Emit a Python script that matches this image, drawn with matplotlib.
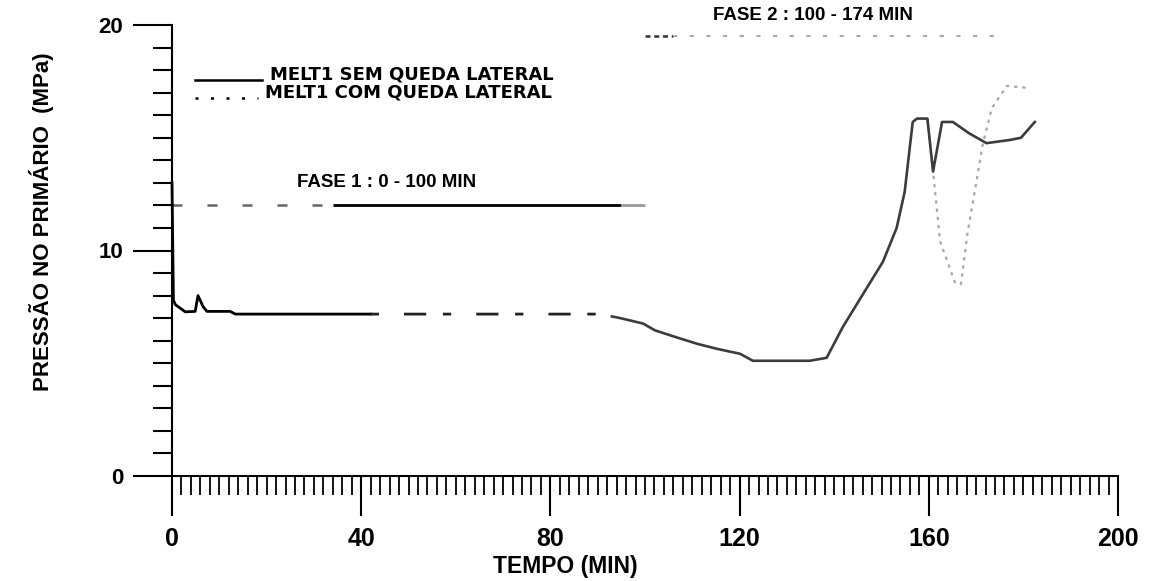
import matplotlib
matplotlib.use('Agg')
import matplotlib.pyplot as plt
from matplotlib import font_manager
from matplotlib.font_manager import FontProperties
from matplotlib.lines import Line2D
import numpy as np

# ---------------- data ----------------
t_sem = [0.0, 0.3, 0.7, 2.8, 4.9, 5.5, 6.6, 7.4, 12.3, 13.4, 42.0, 90.5, 94.8,
         99.6, 102.1, 105.9, 110.9, 115.2, 120.1, 122.8, 134.8, 138.4, 141.8,
         145.6, 150.3, 153.2, 154.9, 156.6, 157.5, 159.7, 160.9, 162.8, 165.1,
         168.5, 172.2, 177.1, 179.5, 182.4]
p_sem = [13.0, 7.8, 7.6, 7.28, 7.3, 8.0, 7.5, 7.3, 7.3, 7.18, 7.18, 7.18, 7.0,
         6.76, 6.46, 6.2, 5.87, 5.64, 5.42, 5.11, 5.11, 5.24, 6.6,
         7.9, 9.5, 11.0, 12.6, 15.7, 15.85, 15.85, 13.5, 15.7, 15.7,
         15.2, 14.76, 14.9, 15.0, 15.7]

t_com = [159.7, 160.9, 162.4, 165.5, 166.8, 168.2, 169.7, 171.4, 173.3, 176.5, 181.4]
p_com = [15.85, 13.5, 10.4, 8.6, 8.5, 10.8, 12.6, 14.7, 16.3, 17.3, 17.2]

fase1_t = [0.0, 100.0]
fase1_p = [12.0, 12.0]
fase2_t = [100.0, 174.0]
fase2_p = [19.5, 19.5]

legend_labels = ["MELT1 SEM QUEDA LATERAL", "MELT1 COM QUEDA LATERAL"]
fase1_label = "FASE 1 : 0 - 100 MIN"
fase2_label = "FASE 2 : 100 - 174 MIN"
x_ticks = [0, 40, 80, 120, 160, 200]
y_ticks = [0, 10, 20]
x_title = "TEMPO (MIN)"
y_title = "PRESSÃO NO PRIMÁRIO  (MPa)"


def pick(fams):
    for f in fams:
        try:
            font_manager.findfont(FontProperties(family=f), fallback_to_default=False)
            return f
        except Exception:
            pass
    return 'DejaVu Sans'


SANS = pick(['Liberation Sans', 'Arial', 'DejaVu Sans'])
NARROW = pick(['Liberation Sans Narrow', 'Liberation Sans', 'DejaVu Sans'])


def segment(t, p, a, b):
    t = np.asarray(t, float)
    p = np.asarray(p, float)
    a = max(a, t[0]); b = min(b, t[-1])
    inner = (t > a) & (t < b)
    ts = np.concatenate([[a], t[inner], [b]])
    ps = np.concatenate([[np.interp(a, t, p)], p[inner], [np.interp(b, t, p)]])
    return ts, ps


W, H = 1155, 581
fig = plt.figure(figsize=(W / 100, H / 100), dpi=100)
fig.patch.set_facecolor('white')

x0, x1 = 172, 1118
y0, y1 = 476, 25
ax = fig.add_axes([x0 / W, (H - y0) / H, (x1 - x0) / W, (y0 - y1) / H])
ax.set_xlim(0, 200)
ax.set_ylim(0, 20)
for s in ['top', 'right']:
    ax.spines[s].set_visible(False)
for s in ['left', 'bottom']:
    ax.spines[s].set_linewidth(1.5)
    ax.spines[s].set_color('black')

ax.set_xticks(x_ticks)
ax.set_xticks(np.arange(0, 201, 2), minor=True)
ax.set_yticks(y_ticks)
ax.set_yticks(np.arange(0, 21, 1), minor=True)
ax.tick_params(axis='x', which='major', direction='out', length=29, width=1.5, pad=8)
ax.tick_params(axis='x', which='minor', direction='out', length=14, width=1.3)
ax.tick_params(axis='y', which='major', direction='out', length=28, width=1.5, pad=7)
ax.tick_params(axis='y', which='minor', direction='out', length=14, width=1.5)
ax.set_xticklabels([str(v) for v in x_ticks], fontfamily=NARROW, fontweight='bold', fontsize=18)
ax.set_yticklabels([str(v) for v in y_ticks], fontfamily=SANS, fontweight='bold', fontsize=16)

# phase lines
ts, ps = segment(fase1_t, fase1_p, 0, 34)
ax.plot(ts, ps, color='#666666', lw=1.8, linestyle=(0, (4, 10)), clip_on=False)
ts, ps = segment(fase1_t, fase1_p, 34, 95)
ax.plot(ts, ps, color='black', lw=2.0, solid_capstyle='butt')
ts, ps = segment(fase1_t, fase1_p, 95, 100)
ax.plot(ts, ps, color='#999999', lw=2.0, solid_capstyle='butt')
ts, ps = segment(fase2_t, fase2_p, 100, 106)
ax.plot(ts, ps, color='#333333', lw=1.8, linestyle=(0, (2, 1.5)))
ts, ps = segment(fase2_t, fase2_p, 106, 174)
ax.plot(ts, ps, color='#aaaaaa', lw=1.5, linestyle=(0, (2, 6)))

# com queda lateral (dotted grey)
ax.plot(t_com, p_com, color='#a8a8a8', lw=1.6, linestyle=(0, (1.5, 2.2)))

# sem queda lateral (solid)
ts, ps = segment(t_sem, p_sem, 0, 42)
ax.plot(ts, ps, color='black', lw=2.0, clip_on=False)
ts, ps = segment(t_sem, p_sem, 42, 93)
ax.plot(ts, ps, color='#222222', lw=2.0, linestyle=(0, (3, 9, 8, 6)))
ts, ps = segment(t_sem, p_sem, 93, 200)
ax.plot(ts, ps, color='#3c3c3c', lw=1.9)

# phase texts
ax.text(26.4, 13.0, fase1_label, fontfamily=SANS, fontweight='bold', fontsize=13.5,
        ha='left', va='center')
ax.text(114.4, 20.4, fase2_label, fontfamily=SANS, fontweight='bold', fontsize=13.5,
        ha='left', va='center', clip_on=False)

# legend drawn by hand as in the reference
fig.add_artist(Line2D([195 / W, 262 / W], [1 - 80 / H, 1 - 80 / H], color='black', lw=1.8,
                      transform=fig.transFigure))
fig.add_artist(Line2D([195 / W, 258 / W], [1 - 98 / H, 1 - 98 / H], color='black', lw=1.8,
                      linestyle=(0, (1.2, 5)), transform=fig.transFigure))
fig.text(270 / W, 1 - 74 / H, legend_labels[0], fontfamily='DejaVu Sans', fontweight='bold',
         fontsize=13, ha='left', va='center')
fig.text(265 / W, 1 - 93 / H, legend_labels[1], fontfamily='DejaVu Sans', fontweight='bold',
         fontsize=13, ha='left', va='center')

# axis titles
fig.text(565 / W, 1 - 566 / H, x_title, fontfamily=SANS, fontweight='bold', fontsize=16.5,
         ha='center', va='center')
fig.text(42 / W, 1 - 222 / H, y_title, fontfamily=SANS, fontweight='bold', fontsize=16,
         ha='center', va='center', rotation=90)

fig.savefig('out.png', dpi=100, facecolor='white')
